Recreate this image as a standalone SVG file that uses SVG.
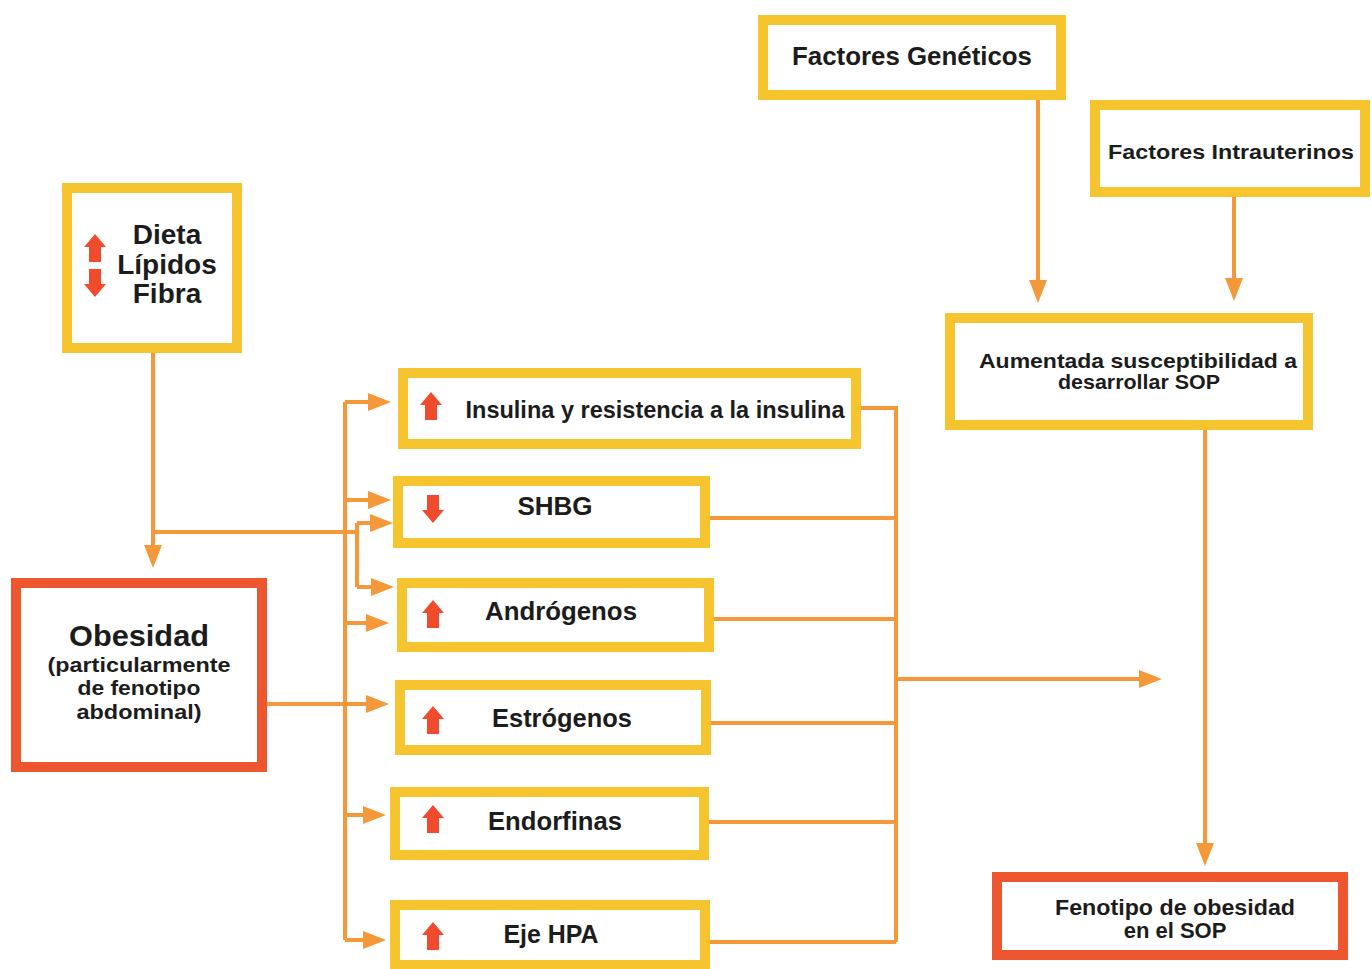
<svg xmlns="http://www.w3.org/2000/svg" width="1372" height="969" viewBox="0 0 1372 969">
<style>
.yb{fill:#fff;stroke:#F6C42E;stroke-width:10}
.rb{fill:#fff;stroke:#EE5630;stroke-width:10}
.t{font-family:"Liberation Sans",Arial,sans-serif;font-weight:bold;fill:#1c1c1c;text-anchor:middle}
.c{fill:none;stroke:#F4983A;stroke-width:4}
.ra{fill:#F04B2D}
</style>
<defs>
<marker id="ah" markerUnits="userSpaceOnUse" markerWidth="24" markerHeight="18" refX="12" refY="9" orient="auto">
<path d="M0,0 L23,9 L0,18 z" fill="#F4983A"/>
</marker>
<path id="up" d="M0,-14 L11,-1 L6,-1 L6,14 L-6,14 L-6,-1 L-11,-1 z"/>
</defs>
<rect width="1372" height="969" fill="#fff"/>

<g id="connectors">
<path class="c" d="M153,353 V557" marker-end="url(#ah)"/>
<path class="c" d="M153,532 H357"/>
<path class="c" d="M357,523 V587"/>
<path class="c" d="M357,523 H382" marker-end="url(#ah)"/>
<path class="c" d="M357,587 H383" marker-end="url(#ah)"/>
<path class="c" d="M345,402 V940"/>
<path class="c" d="M345,402 H380" marker-end="url(#ah)"/>
<path class="c" d="M345,500 H380" marker-end="url(#ah)"/>
<path class="c" d="M345,623 H378" marker-end="url(#ah)"/>
<path class="c" d="M345,815 H375" marker-end="url(#ah)"/>
<path class="c" d="M345,940 H375" marker-end="url(#ah)"/>
<path class="c" d="M267,704 H378" marker-end="url(#ah)"/>
<path class="c" d="M861,408 H896 V942"/>
<path class="c" d="M710,518 H896"/>
<path class="c" d="M714,619 H896"/>
<path class="c" d="M711,723 H896"/>
<path class="c" d="M709,822 H896"/>
<path class="c" d="M709,942 H896"/>
<path class="c" d="M896,679 H1151" marker-end="url(#ah)"/>
<path class="c" d="M1038,100 V292" marker-end="url(#ah)"/>
<path class="c" d="M1234,197 V290" marker-end="url(#ah)"/>
<path class="c" d="M1205,430 V855" marker-end="url(#ah)"/>
</g>

<g id="dieta">
<rect class="yb" x="67" y="188" width="170" height="160"/>
<use href="#up" class="ra" x="95" y="248"/>
<use href="#up" class="ra" transform="translate(95,283) rotate(180)"/>
<text class="t" x="167" y="244" font-size="28">Dieta</text>
<text class="t" x="167" y="274" font-size="28">Lípidos</text>
<text class="t" x="167" y="303" font-size="28">Fibra</text>
</g>

<g id="obesidad">
<rect class="rb" x="16" y="583" width="246" height="184"/>
<text class="t" x="139" y="646" font-size="30" textLength="140" lengthAdjust="spacingAndGlyphs">Obesidad</text>
<text class="t" x="139" y="672" font-size="21" textLength="183" lengthAdjust="spacingAndGlyphs">(particularmente</text>
<text class="t" x="139" y="695" font-size="21" textLength="123" lengthAdjust="spacingAndGlyphs">de fenotipo</text>
<text class="t" x="139" y="719" font-size="21" textLength="125" lengthAdjust="spacingAndGlyphs">abdominal)</text>
</g>

<g id="insulina">
<rect class="yb" x="403" y="373" width="453" height="71"/>
<use href="#up" class="ra" x="431" y="406"/>
<text class="t" x="655" y="418" font-size="24" textLength="379" lengthAdjust="spacingAndGlyphs">Insulina y resistencia a la insulina</text>
</g>

<g id="shbg">
<rect class="yb" x="398" y="481" width="307" height="62"/>
<use href="#up" class="ra" transform="translate(433,509) rotate(180)"/>
<text class="t" x="555" y="515" font-size="26">SHBG</text>
</g>

<g id="androgenos">
<rect class="yb" x="402" y="583" width="307" height="64"/>
<use href="#up" class="ra" x="433" y="614"/>
<text class="t" x="561" y="620" font-size="26" textLength="152" lengthAdjust="spacingAndGlyphs">Andrógenos</text>
</g>

<g id="estrogenos">
<rect class="yb" x="400" y="685" width="306" height="65"/>
<use href="#up" class="ra" x="433" y="720"/>
<text class="t" x="562" y="727" font-size="26" textLength="140" lengthAdjust="spacingAndGlyphs">Estrógenos</text>
</g>

<g id="endorfinas">
<rect class="yb" x="395" y="792" width="309" height="63"/>
<use href="#up" class="ra" x="433" y="819"/>
<text class="t" x="555" y="830" font-size="26" textLength="134" lengthAdjust="spacingAndGlyphs">Endorfinas</text>
</g>

<g id="ejehpa">
<rect class="yb" x="395" y="905" width="310" height="60"/>
<use href="#up" class="ra" x="433" y="936"/>
<text class="t" x="551" y="943" font-size="25" textLength="95" lengthAdjust="spacingAndGlyphs">Eje HPA</text>
</g>

<g id="geneticos">
<rect class="yb" x="763" y="20" width="298" height="75"/>
<text class="t" x="912" y="65" font-size="25" textLength="240" lengthAdjust="spacingAndGlyphs">Factores Genéticos</text>
</g>

<g id="intrauterinos">
<rect class="yb" x="1095" y="105" width="270" height="87"/>
<text class="t" x="1231" y="159" font-size="21" textLength="246" lengthAdjust="spacingAndGlyphs">Factores Intrauterinos</text>
</g>

<g id="aumentada">
<rect class="yb" x="950" y="318" width="358" height="107"/>
<text class="t" x="1138" y="368" font-size="21" textLength="318" lengthAdjust="spacingAndGlyphs">Aumentada susceptibilidad a</text>
<text class="t" x="1139" y="389" font-size="21" textLength="162" lengthAdjust="spacingAndGlyphs">desarrollar SOP</text>
</g>

<g id="fenotipo">
<rect class="rb" x="997" y="877" width="346" height="78"/>
<text class="t" x="1175" y="915" font-size="22" textLength="240" lengthAdjust="spacingAndGlyphs">Fenotipo de obesidad</text>
<text class="t" x="1175" y="938" font-size="22">en el SOP</text>
</g>
</svg>
